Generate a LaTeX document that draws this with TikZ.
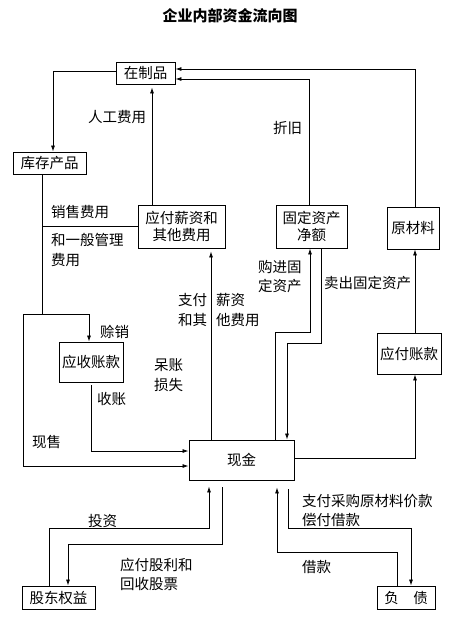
\documentclass[tikz,border=0pt]{standalone}
\usepackage{fontspec}
\setmainfont{Noto Sans CJK SC}
\usetikzlibrary{arrows.meta}
\begin{document}
\begin{tikzpicture}[x=1pt,y=-1pt,
  every node/.style={font=\fontsize{14.5}{17}\selectfont},
  box/.style={draw,line width=0.9pt,inner sep=0pt,align=center},
  lbl/.style={inner sep=0pt,anchor=west},
  ln/.style={line width=0.8pt},
  arr/.style={line width=0.8pt,-{Latex[length=6pt,width=4pt]}}]
\useasboundingbox (0,0) rectangle (458,619);
\node[font=\fontsize{15}{18}\selectfont\bfseries] (title) at (230,16) {企业内部资金流向图};
% boxes
\node[box,minimum width=59pt,minimum height=22pt] (zp) at (145.5,73) {在制品};
\node[box,minimum width=73pt,minimum height=22pt] (kc) at (49.5,163) {库存产品};
\node[box,minimum width=87pt,minimum height=43pt] (yf) at (181.5,226.5) {应付薪资和\\其他费用};
\node[box,minimum width=71pt,minimum height=43pt] (gd) at (311.5,226.5) {固定资产\\净额};
\node[box,minimum width=52pt,minimum height=42pt] (ycl) at (413,228) {原材料};
\node[box,minimum width=64pt,minimum height=40pt] (ys) at (91,362) {应收账款};
\node[box,minimum width=64pt,minimum height=41pt] (yfz) at (409,353.5) {应付账款};
\node[box,minimum width=105pt,minimum height=40pt] (xj) at (241.5,460) {现金};
\node[box,minimum width=73pt,minimum height=23pt] (gq) at (58.5,597.5) {股东权益};
\node[box,minimum width=58pt,minimum height=23pt] (fz) at (406,597.5) {负　债};
% coordinates
\coordinate (c1) at (42,314);
\coordinate (c2) at (23,314);
\coordinate (c3) at (42,226);
% connectors
\draw[arr] (zp.west |- 0,71) -| (53,0 |- kc.north);
\draw[arr,shorten >=3pt] (152,0 |- yf.north) -- (152,0 |- zp.south);
\draw[arr] (309,0 |- gd.north) |- (zp.east |- 0,79);
\draw[arr] (415,0 |- ycl.north) |- (zp.east |- 0,69);
\draw[ln] (42,0 |- kc.south) -- (c1);
\draw[ln] (c3) -- (yf.west |- c3);
\draw[arr] (c2) -| (89,0 |- ys.north);
\draw[arr] (c2) |- (xj.west |- 0,466);
\draw[arr,shorten <=3pt] (91,0 |- ys.south) |- (xj.west |- 0,451);
\draw[arr,shorten >=3pt] (211,0 |- xj.north) -- (211,0 |- yf.south);
\draw[arr] (275,0 |- xj.north) |- (310,332) -- (310,0 |- gd.south);
\draw[arr] (321,0 |- gd.south) |- (287,343) -- (287,0 |- xj.north);
\draw[arr] (xj.east |- 0,458) -| (415,0 |- yfz.south);
\draw[arr] (415,0 |- yfz.north) -- (415,0 |- ycl.south);
\draw[arr,shorten >=6pt] (49,0 |- gq.north) |- (209,528) -- (209,0 |- xj.south);
\draw[arr,shorten <=7pt] (222,0 |- xj.south) |- (68,544) -- (68,0 |- gq.north);
\draw[arr,shorten >=7pt] (397,0 |- fz.north) |- (277,552) -- (277,0 |- xj.south);
\draw[arr,shorten <=9pt] (288,0 |- xj.south) |- (411,528) -- (411,0 |- fz.north);
% labels
\node[lbl] (l1) at (88,117) {人工费用};
\node[lbl] (l2) at (273,128) {折旧};
\node[lbl] (l3) at (51,212) {销售费用};
\node[lbl] (l4) at (51,240) {和一般管理};
\node[lbl] (l5) at (51,260) {费用};
\node[lbl] (l6) at (178,300) {支付};
\node[lbl] (l7) at (216,300) {薪资};
\node[lbl] (l8) at (178,320) {和其};
\node[lbl] (l9) at (216,320) {他费用};
\node[lbl] (l10) at (258,267) {购进固};
\node[lbl] (l11) at (258,286) {定资产};
\node[lbl] (l12) at (324,283) {卖出固定资产};
\node[lbl] (l13) at (100,332) {赊销};
\node[lbl] (l14) at (97,399) {收账};
\node[lbl] (l15) at (154,365) {呆账};
\node[lbl] (l16) at (154,385) {损失};
\node[lbl] (l17) at (32,442) {现售};
\node[lbl] (l18) at (88,521) {投资};
\node[lbl] (l19) at (120,565) {应付股利和};
\node[lbl] (l20) at (120,584) {回收股票};
\node[lbl] (l21) at (302,501) {支付采购原材料价款};
\node[lbl] (l22) at (302,520) {偿付借款};
\node[lbl] (l23) at (302,567) {借款};
\end{tikzpicture}
\end{document}
